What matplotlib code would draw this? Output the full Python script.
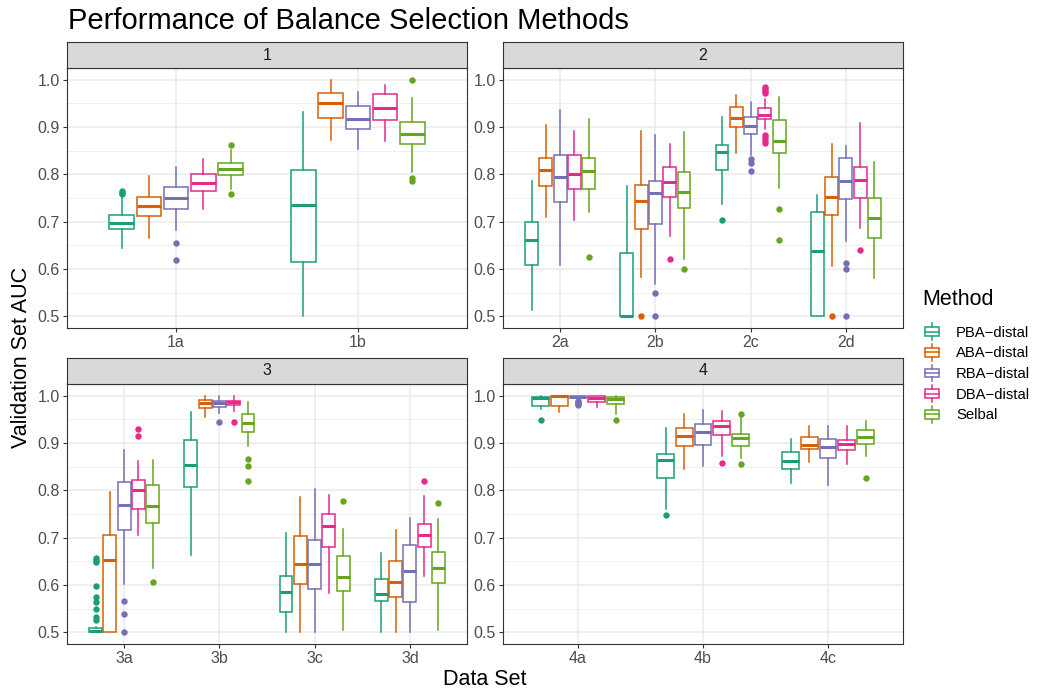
"""Boxplots of validation AUC per data set, faceted by scenario (ggplot-like look)."""
import matplotlib
matplotlib.use("Agg")
import matplotlib.pyplot as plt
from matplotlib.lines import Line2D
from matplotlib.patches import Rectangle
from matplotlib.legend_handler import HandlerBase

plt.rcParams["font.family"] = ["Liberation Sans", "DejaVu Sans"]

METHODS = ["PBA\u2212distal", "ABA\u2212distal", "RBA\u2212distal", "DBA\u2212distal", "Selbal"]
COLORS = ["#1B9E77", "#D95F02", "#7570B3", "#E7298A", "#66A61E"]

# ── facet 1 ──────────────────────────────────────────────────────────────────
# each row = one data set, each column = one method (order as METHODS)
P1_LABELS = ["1a", "1b"]
P1_LO = [[0.644, 0.666, 0.683, 0.727, 0.770], [0.500, 0.873, 0.854, 0.870, 0.806]]
P1_Q1 = [[0.685, 0.712, 0.727, 0.765, 0.799], [0.615, 0.920, 0.895, 0.916, 0.865]]
P1_MED = [[0.698, 0.734, 0.749, 0.782, 0.811], [0.735, 0.950, 0.918, 0.940, 0.885]]
P1_Q3 = [[0.713, 0.753, 0.773, 0.800, 0.825], [0.809, 0.973, 0.944, 0.970, 0.911]]
P1_HI = [[0.752, 0.796, 0.816, 0.832, 0.852], [0.932, 1.000, 0.975, 0.990, 0.961]]
P1_OUT = [[[0.758, 0.761, 0.765], [], [0.654, 0.619], [], [0.758, 0.863]],
          [[], [], [], [], [1.0, 0.792, 0.787]]]

# ── facet 2 ──────────────────────────────────────────────────────────────────
P2_LABELS = ["2a", "2b", "2c", "2d"]
P2_LO = [[0.513, 0.710, 0.609, 0.704, 0.720], [0.500, 0.582, 0.568, 0.670, 0.620],
         [0.737, 0.846, 0.842, 0.896, 0.771], [0.500, 0.607, 0.658, 0.687, 0.581]]
P2_Q1 = [[0.609, 0.775, 0.742, 0.770, 0.770], [0.500, 0.685, 0.695, 0.753, 0.728],
         [0.810, 0.900, 0.886, 0.918, 0.845], [0.500, 0.714, 0.748, 0.751, 0.665]]
P2_MED = [[0.661, 0.810, 0.794, 0.801, 0.808], [0.500, 0.743, 0.760, 0.784, 0.763],
          [0.847, 0.920, 0.902, 0.925, 0.870], [0.637, 0.752, 0.785, 0.789, 0.707]]
P2_Q3 = [[0.699, 0.835, 0.842, 0.840, 0.835], [0.633, 0.777, 0.785, 0.815, 0.804],
         [0.863, 0.942, 0.921, 0.940, 0.915], [0.720, 0.794, 0.835, 0.816, 0.749]]
P2_HI = [[0.787, 0.905, 0.937, 0.891, 0.917], [0.775, 0.892, 0.884, 0.864, 0.889],
         [0.922, 0.968, 0.954, 0.960, 0.964], [0.756, 0.864, 0.859, 0.908, 0.826]]
P2_OUT = [[[], [], [], [], [0.625]],
          [[], [0.5], [0.548, 0.5], [0.621], [0.599]],
          [[0.703], [], [0.833, 0.825, 0.807],
           [0.984, 0.980, 0.976, 0.973, 0.884, 0.878, 0.872, 0.867], [0.727, 0.662]],
          [[], [0.5], [0.613, 0.600, 0.5], [0.641], []]]

# ── facet 3 ──────────────────────────────────────────────────────────────────
P3_LABELS = ["3a", "3b", "3c", "3d"]
P3_LO = [[0.500, 0.500, 0.601, 0.706, 0.636], [0.663, 0.955, 0.963, 0.968, 0.893],
         [0.500, 0.500, 0.500, 0.582, 0.505], [0.500, 0.500, 0.500, 0.618, 0.505]]
P3_Q1 = [[0.500, 0.500, 0.717, 0.761, 0.730], [0.808, 0.975, 0.977, 0.981, 0.923],
         [0.542, 0.601, 0.592, 0.680, 0.587], [0.565, 0.575, 0.564, 0.680, 0.603]]
P3_MED = [[0.503, 0.653, 0.770, 0.800, 0.766], [0.854, 0.985, 0.985, 0.987, 0.942],
          [0.585, 0.644, 0.644, 0.724, 0.617], [0.581, 0.606, 0.629, 0.705, 0.635]]
P3_Q3 = [[0.508, 0.706, 0.817, 0.821, 0.812], [0.906, 0.991, 0.990, 0.990, 0.961],
         [0.619, 0.703, 0.694, 0.751, 0.662], [0.612, 0.650, 0.684, 0.728, 0.669]]
P3_HI = [[0.512, 0.797, 0.886, 0.863, 0.865], [0.965, 0.999, 0.999, 0.999, 0.987],
         [0.710, 0.785, 0.803, 0.791, 0.719], [0.667, 0.717, 0.742, 0.788, 0.739]]
P3_OUT = [[[0.657, 0.653, 0.648, 0.597, 0.575, 0.563, 0.549, 0.532, 0.525], [],
           [0.565, 0.539, 0.5], [0.930, 0.915], [0.606]],
          [[], [], [0.945], [0.945], [0.866, 0.851, 0.819]],
          [[], [], [], [], [0.778]],
          [[], [], [], [0.819], [0.773]]]

# ── facet 4 ──────────────────────────────────────────────────────────────────
P4_LABELS = ["4a", "4b", "4c"]
P4_LO = [[0.972, 0.965, 0.993, 0.977, 0.961], [0.761, 0.845, 0.851, 0.872, 0.868],
         [0.815, 0.860, 0.812, 0.856, 0.873]]
P4_Q1 = [[0.979, 0.979, 0.995, 0.986, 0.982], [0.827, 0.893, 0.897, 0.918, 0.894],
         [0.846, 0.887, 0.868, 0.885, 0.898]]
P4_MED = [[0.996, 0.999, 0.998, 0.995, 0.994], [0.864, 0.915, 0.924, 0.937, 0.911],
          [0.863, 0.897, 0.892, 0.898, 0.913]]
P4_Q3 = [[0.998, 1.000, 1.000, 0.999, 0.998], [0.877, 0.932, 0.940, 0.946, 0.919],
         [0.882, 0.913, 0.908, 0.907, 0.927]]
P4_HI = [[1.000, 1.000, 1.000, 1.000, 1.000], [0.931, 0.961, 0.970, 0.968, 0.953],
         [0.909, 0.937, 0.937, 0.936, 0.947]]
P4_OUT = [[[0.948], [], [0.988, 0.986, 0.984, 0.982, 0.980], [], [0.948]],
          [[0.747], [], [], [0.858], [0.961, 0.856]],
          [[], [], [], [], [0.826]]]

Y_TICKS = [0.5, 0.6, 0.7, 0.8, 0.9, 1.0]
Y_MINOR = [0.55, 0.65, 0.75, 0.85, 0.95]

LW = 1.1
GRID = "#EBEBEB"
BORDER = "#333333"


def draw_facet(ax, labels, lo, q1, med, q3, hi, out):
    n = len(labels)
    for i in range(n):
        for m, col in enumerate(COLORS):
            st = [dict(med=med[i][m], q1=q1[i][m], q3=q3[i][m],
                       whislo=lo[i][m], whishi=hi[i][m], fliers=out[i][m])]
            ax.bxp(st, positions=[i + 1 + (m - 2) * 0.15], widths=0.135,
                   showcaps=False, patch_artist=True, manage_ticks=False,
                   boxprops=dict(facecolor="white", edgecolor=col, linewidth=LW),
                   whiskerprops=dict(color=col, linewidth=LW),
                   medianprops=dict(color=col, linewidth=LW * 2),
                   flierprops=dict(marker="o", markerfacecolor=col,
                                   markeredgecolor="none", markersize=4.6),
                   zorder=3)
    ax.set_xlim(0.4, n + 0.6)
    ax.set_ylim(0.475, 1.025)
    ax.set_xticks(range(1, n + 1))
    ax.set_xticklabels(labels)
    ax.set_yticks(Y_TICKS)
    ax.set_yticklabels([f"{v:.1f}" for v in Y_TICKS])
    ax.set_yticks(Y_MINOR, minor=True)
    ax.grid(which="major", color=GRID, lw=1.1, zorder=0)
    ax.grid(which="minor", axis="y", color=GRID, lw=0.55, zorder=0)
    ax.set_axisbelow(True)
    ax.tick_params(which="major", length=3, width=0.8, color=BORDER,
                   labelsize=11.5, labelcolor="#4D4D4D", pad=2)
    ax.tick_params(which="minor", length=0)
    for s in ax.spines.values():
        s.set_color(BORDER)
        s.set_linewidth(0.8)


def strip(fig, rect, text):
    sax = fig.add_axes(rect)
    sax.set_facecolor("#D9D9D9")
    sax.set_xticks([])
    sax.set_yticks([])
    for s in sax.spines.values():
        s.set_color(BORDER)
        s.set_linewidth(0.8)
    sax.text(0.5, 0.5, text, ha="center", va="center", fontsize=11.5, color="#1A1A1A",
             transform=sax.transAxes)


class BoxKey(HandlerBase):
    """Small boxplot glyph as in ggplot legend keys."""
    def create_artists(self, legend, orig_handle, xdescent, ydescent, width, height,
                       fontsize, trans):
        c = orig_handle.get_color()
        x0, y0 = -xdescent, -ydescent
        bw = width * 0.9
        bx = x0 + (width - bw) / 2
        cx = x0 + width / 2
        b0, b1 = y0 + height * 0.17, y0 + height * 0.83
        rect = Rectangle((bx, b0), bw, b1 - b0, facecolor="white",
                         edgecolor=c, lw=LW, transform=trans)
        med_l = Line2D([bx, bx + bw], [y0 + height * 0.5] * 2, color=c, lw=LW, transform=trans)
        w1 = Line2D([cx, cx], [y0 - height * 0.12, b0], color=c, lw=LW, transform=trans)
        w2 = Line2D([cx, cx], [b1, y0 + height * 1.12], color=c, lw=LW, transform=trans)
        return [rect, med_l, w1, w2]


W, H = 1041, 692
fig = plt.figure(figsize=(W / 100, H / 100), dpi=100)

lefts = [67, 503]
pw = 400
tops = [68, 384]
ph = 260
facets = [
    ("1", P1_LABELS, P1_LO, P1_Q1, P1_MED, P1_Q3, P1_HI, P1_OUT),
    ("2", P2_LABELS, P2_LO, P2_Q1, P2_MED, P2_Q3, P2_HI, P2_OUT),
    ("3", P3_LABELS, P3_LO, P3_Q1, P3_MED, P3_Q3, P3_HI, P3_OUT),
    ("4", P4_LABELS, P4_LO, P4_Q1, P4_MED, P4_Q3, P4_HI, P4_OUT),
]
for k, (name, *data) in enumerate(facets):
    left = lefts[k % 2]
    top = tops[k // 2]
    ax = fig.add_axes([left / W, 1 - (top + ph) / H, pw / W, ph / H])
    draw_facet(ax, *data)
    strip(fig, [left / W, 1 - top / H, pw / W, 26 / H], name)

fig.text(68 / W, 1 - 29 / H, "Performance of Balance Selection Methods",
         fontsize=21, va="baseline", ha="left", color="black")
fig.text(22 / W, 1 - 357 / H, "Validation Set AUC", rotation=90, fontsize=15.5,
         ha="center", va="center")
fig.text(485 / W, 1 - 685 / H, "Data Set", fontsize=15.5, ha="center", va="baseline")

# legend: title drawn separately so the gap to the keys matches ggplot
fig.text(922 / W, 1 - 300 / H, "Method", fontsize=15.5, ha="left", va="center")
handles = [Line2D([], [], color=c) for c in COLORS]
leg = fig.legend(handles, METHODS, handler_map={Line2D: BoxKey()},
                 loc="upper left", bbox_to_anchor=(924 / W, 1 - 325 / H),
                 frameon=False, fontsize=10.7,
                 handlelength=1.05, handleheight=1.0,
                 handletextpad=1.1, labelspacing=0.4, borderpad=0, borderaxespad=0)

fig.savefig("out.png", dpi=100)
